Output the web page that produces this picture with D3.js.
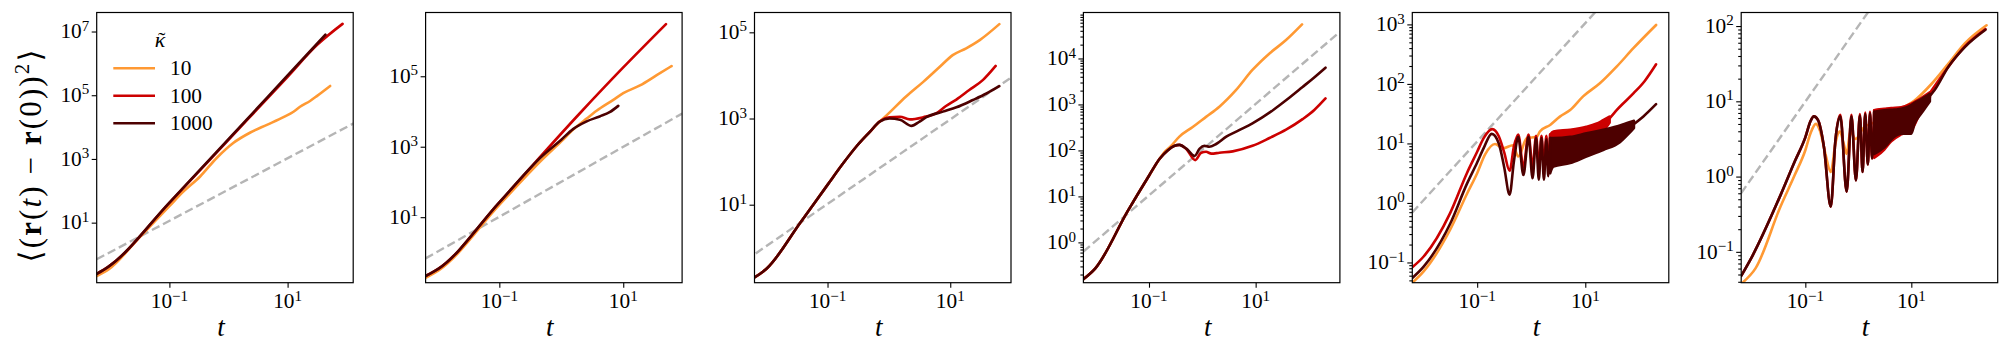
<!DOCTYPE html>
<html lang="en">
<head>
<meta charset="UTF-8">
<title>Mean squared displacement panels</title>
<script src="https://d3js.org/d3.v7.min.js"></script>
<style>
    body { margin: 0; background: #fff; }
    svg { display: block; font-family: "Liberation Serif", "DejaVu Serif", serif; }
    .frame { fill: none; stroke: #000; stroke-width: 1.2; }
    .tick line { stroke: #000; stroke-width: 1.1; }
    .curve { fill: none; stroke-width: 2.6; stroke-linejoin: round; stroke-linecap: round; }
    .guide { fill: none; stroke: #b5b5b5; stroke-width: 2.4; stroke-dasharray: 8.5 4; }
</style>
</head>
<body>
<svg id="fig" width="2010" height="364"></svg>
<script>
// every point is [log10 t, log10 <(r(t)-r(0))^2>]
// bands are [log10 t, log10 lower, log10 upper] where the curve oscillates too fast to resolve

const kappas = [10, 100, 1000];
const colors = ["#ff9933", "#cc0000", "#4d0000"];

// axis limits (log10)
const xLims = [[-2.23, 2.11], [-2.19, 1.95], [-2.19, 1.99], [-2.23, 2.58], [-2.2, 2.545], [-2.21, 2.63]];
const yLims = [[-0.885, 7.597], [-0.86, 6.81], [-0.81, 5.46], [-0.877, 5.0], [-1.34, 3.2], [-1.41, 2.18]];

// tick exponents
const xTickExp = [-1, 1];
const yTickExp = [[1, 3, 5, 7], [1, 3, 5], [1, 3, 5], [0, 1, 2, 3, 4], [-1, 0, 1, 2, 3], [-1, 0, 1, 2]];
const yMinor = [false, false, false, true, true, true];

// panel 1
const p1_guide = [[-2.23, -0.15], [2.12, 4.12]];
const p1_k10 = [[-2.23, -0.68], [-2.03, -0.47], [-1.5, 0.55], [-1.0, 1.52], [-0.76, 1.98], [-0.48, 2.45], [-0.2, 3.03], [0.08, 3.5], [0.37, 3.83], [0.65, 4.07], [0.93, 4.31], [1.1, 4.48], [1.21, 4.64], [1.38, 4.82], [1.5, 4.98], [1.72, 5.29]];
const p1_k100 = [[-2.23, -0.61], [-2.03, -0.38], [-1.0, 1.62], [0.0, 3.6], [1.0, 5.58], [1.5, 6.58], [1.93, 7.24]];
const p1_k1000 = [[-2.23, -0.61], [-2.03, -0.38], [-1.0, 1.63], [0.0, 3.62], [1.0, 5.62], [1.4, 6.42], [1.64, 6.9]];

// panel 2
const p2_guide = [[-2.19, -0.17], [1.95, 3.94]];
const p2_k10 = [[-2.19, -0.72], [-1.98, -0.51], [-1.0, 1.35], [-0.3, 2.65], [0.0, 3.15], [0.2, 3.5], [0.41, 3.8], [0.57, 4.02], [0.84, 4.33], [1.0, 4.52], [1.27, 4.74], [1.54, 5.03], [1.78, 5.29]];
const p2_k100 = [[-2.19, -0.67], [-1.98, -0.46], [-1.0, 1.42], [0.3, 3.95], [1.0, 5.25], [1.69, 6.48]];
const p2_k1000 = [[-2.19, -0.67], [-1.98, -0.46], [-1.0, 1.42], [-0.3, 2.75], [0.0, 3.2], [0.19, 3.5], [0.41, 3.72], [0.62, 3.86], [0.78, 3.98], [0.92, 4.16]];

// panel 3
const p3_guide = [[-2.17, -0.13], [1.99, 3.95]];
const p3_k10 = [[-2.19, -0.69], [-1.99, -0.48], [-1.45, 0.57], [-1.0, 1.46], [-0.745, 1.96], [-0.53, 2.35], [-0.31, 2.69], [-0.15, 2.93], [-0.07, 3.03], [0.28, 3.51], [0.56, 3.85], [0.83, 4.2], [1.04, 4.47], [1.26, 4.63], [1.48, 4.82], [1.8, 5.19]];
const p3_k100 = [[-2.19, -0.69], [-1.99, -0.48], [-1.45, 0.57], [-1.0, 1.46], [-0.745, 1.96], [-0.53, 2.35], [-0.31, 2.69], [-0.15, 2.93], [0.01, 3.03], [0.18, 3.04], [0.34, 2.98], [0.56, 3.03], [0.77, 3.12], [0.93, 3.29], [1.1, 3.44], [1.31, 3.66], [1.53, 3.89], [1.74, 4.22]];
const p3_k1000 = [[-2.19, -0.69], [-1.99, -0.48], [-1.45, 0.57], [-1.0, 1.46], [-0.745, 1.96], [-0.53, 2.35], [-0.31, 2.69], [-0.15, 2.93], [0.01, 3.0], [0.18, 2.97], [0.37, 2.83], [0.5, 2.93], [0.61, 3.03], [0.88, 3.16], [1.1, 3.26], [1.37, 3.43], [1.59, 3.58], [1.8, 3.75]];

// panel 4
const p4_guide = [[-2.23, -0.2], [2.58, 4.58]];
const p4_k10 = [[-2.23, -0.8], [-2.01, -0.57], [-1.4, 0.68], [-1.0, 1.45], [-0.8, 1.82], [-0.72, 1.95], [-0.6, 2.08], [-0.43, 2.3], [-0.18, 2.51], [0.07, 2.73], [0.32, 2.95], [0.63, 3.31], [0.94, 3.75], [1.26, 4.11], [1.57, 4.4], [1.87, 4.74]];
const p4_k100 = [[-2.23, -0.8], [-2.01, -0.57], [-1.4, 0.68], [-1.0, 1.45], [-0.8, 1.82], [-0.65, 2.0], [-0.52, 2.1], [-0.43, 2.12], [-0.3, 2.03], [-0.134, 1.79], [-0.02, 1.95], [0.07, 1.97], [0.17, 1.93], [0.32, 1.95], [0.57, 1.98], [0.94, 2.1], [1.26, 2.27], [1.57, 2.45], [1.88, 2.68], [2.1, 2.88], [2.31, 3.13]];
const p4_k1000 = [[-2.23, -0.8], [-2.01, -0.57], [-1.4, 0.68], [-1.0, 1.45], [-0.8, 1.82], [-0.65, 2.0], [-0.52, 2.1], [-0.43, 2.12], [-0.3, 2.04], [-0.146, 1.88], [-0.05, 2.04], [0.04, 2.1], [0.13, 2.08], [0.26, 2.14], [0.45, 2.3], [0.69, 2.44], [0.94, 2.59], [1.33, 2.88], [1.57, 3.09], [1.88, 3.38], [2.07, 3.56], [2.31, 3.8]];

// panel 5
const p5_guide = [[-2.2, -0.16], [1.18, 3.2]];
const p5_k10 = [[-2.2, -1.34], [-1.99, -1.15], [-1.5, -0.45], [-1.19, 0.15], [-1.0, 0.5], [-0.85, 0.82], [-0.67, 0.99], [-0.52, 0.92], [-0.34, 0.97], [-0.24, 0.78], [-0.08, 1.09], [0.1, 1.11], [0.16, 1.2], [0.35, 1.31], [0.53, 1.45], [0.72, 1.56], [0.96, 1.79], [1.27, 2.01], [1.58, 2.29], [1.89, 2.6], [2.31, 2.99]];
const p5_k100 = [[-2.2, -1.08], [-1.99, -0.9], [-1.5, -0.17], [-1.19, 0.5], [-1.0, 0.86], [-0.88, 1.09], [-0.72, 1.24], [-0.6, 1.12], [-0.5, 0.85], [-0.4, 0.54], [-0.32, 0.95], [-0.24, 1.15], [-0.145, 0.6], [-0.05, 1.15], [0.025, 0.6], [0.09, 1.13], [0.14, 0.6], [0.19, 1.13], [0.235, 0.6], [0.28, 1.13], [0.315, 0.6], [0.35, 1.15]];
const p5_k100_band = [[0.35, 0.6, 1.15], [0.41, 0.65, 1.2], [0.72, 0.75, 1.23], [1.02, 0.9, 1.28], [1.2, 1.05, 1.33], [1.33, 1.2, 1.39], [1.45, 1.35, 1.45]];
const p5_k100_tail = [[1.45, 1.42], [1.58, 1.56], [1.89, 1.84], [2.1, 2.05], [2.31, 2.33]];
const p5_k1000 = [[-2.2, -1.26], [-1.99, -1.07], [-1.5, -0.35], [-1.19, 0.32], [-1.0, 0.68], [-0.88, 0.92], [-0.73, 1.16], [-0.6, 1.0], [-0.5, 0.6], [-0.4, 0.14], [-0.32, 0.7], [-0.24, 1.11], [-0.145, 0.47], [-0.05, 1.11], [0.025, 0.415], [0.09, 1.09], [0.14, 0.39], [0.19, 1.09], [0.235, 0.39], [0.28, 1.07], [0.315, 0.45], [0.35, 1.09]];
const p5_k1000_band = [[0.35, 0.5, 1.09], [0.41, 0.61, 1.09], [0.72, 0.67, 1.11], [1.02, 0.78, 1.17], [1.33, 0.89, 1.23], [1.64, 1.02, 1.3], [1.8, 1.16, 1.35], [1.9, 1.26, 1.38]];
const p5_k1000_tail = [[1.86, 1.3], [2.07, 1.45], [2.31, 1.66]];

// panel 6
const p6_guide = [[-2.21, -0.22], [0.18, 2.18]];
const p6_k10 = [[-2.17, -1.4], [-1.94, -1.22], [-1.47, -0.4], [-1.2, 0.02], [-1.0, 0.35], [-0.9, 0.58], [-0.8, 0.7], [-0.72, 0.6], [-0.62, 0.3], [-0.52, 0.06], [-0.43, 0.45], [-0.35, 0.6], [-0.28, 0.45], [-0.22, 0.3], [-0.15, 0.6], [-0.05, 0.5], [0.1, 0.65], [0.3, 0.72], [0.5, 0.8], [0.8, 0.9], [1.06, 1.01], [1.38, 1.23], [1.7, 1.5], [2.01, 1.77], [2.42, 2.01]];
const p6_k100 = [[-2.21, -1.32], [-2.01, -1.07], [-1.47, -0.25], [-1.2, 0.2], [-1.0, 0.52], [-0.9, 0.74], [-0.84, 0.8], [-0.76, 0.75], [-0.65, 0.4], [-0.52, -0.4], [-0.43, 0.5], [-0.34, 0.82], [-0.22, -0.2], [-0.13, 0.82], [-0.045, -0.05], [0.03, 0.83], [0.08, 0.06], [0.13, 0.85], [0.18, 0.16], [0.22, 0.86], [0.26, 0.24], [0.3, 0.88]];
const p6_k100_band = [[0.3, 0.25, 0.88], [0.36, 0.28, 0.89], [0.49, 0.36, 0.9], [0.62, 0.47, 0.91], [0.81, 0.56, 0.92], [1.0, 0.62, 0.97], [1.2, 0.9, 1.05], [1.35, 1.05, 1.12]];
const p6_k100_tail = [[1.33, 1.09], [1.7, 1.46], [2.01, 1.73], [2.4, 1.96]];
const p6_k1000 = [[-2.21, -1.32], [-2.01, -1.07], [-1.47, -0.25], [-1.2, 0.2], [-1.0, 0.52], [-0.9, 0.74], [-0.84, 0.8], [-0.76, 0.75], [-0.65, 0.4], [-0.52, -0.4], [-0.43, 0.5], [-0.34, 0.8], [-0.22, -0.2], [-0.13, 0.8], [-0.045, -0.05], [0.03, 0.81], [0.08, 0.06], [0.13, 0.83], [0.18, 0.16], [0.22, 0.84], [0.26, 0.24], [0.3, 0.86]];
const p6_k1000_band = [[0.3, 0.3, 0.86], [0.49, 0.39, 0.88], [0.68, 0.53, 0.89], [0.81, 0.57, 0.9], [1.0, 0.57, 0.95], [1.06, 0.7, 0.98], [1.19, 0.84, 1.03], [1.35, 1.0, 1.1]];
const p6_k1000_tail = [[1.3, 1.03], [1.44, 1.15], [1.7, 1.46], [2.01, 1.72], [2.4, 1.95]];

// table the drawing loop walks over
const panels = [
    { guide: p1_guide, lines: [[p1_k10], [p1_k100], [p1_k1000]], bands: [[], [], []] },
    { guide: p2_guide, lines: [[p2_k10], [p2_k100], [p2_k1000]], bands: [[], [], []] },
    { guide: p3_guide, lines: [[p3_k10], [p3_k100], [p3_k1000]], bands: [[], [], []] },
    { guide: p4_guide, lines: [[p4_k10], [p4_k100], [p4_k1000]], bands: [[], [], []] },
    { guide: p5_guide, lines: [[p5_k10], [p5_k100, p5_k100_tail], [p5_k1000, p5_k1000_tail]], bands: [[], [p5_k100_band], [p5_k1000_band]] },
    { guide: p6_guide, lines: [[p6_k10], [p6_k100, p6_k100_tail], [p6_k1000, p6_k1000_tail]], bands: [[], [p6_k100_band], [p6_k1000_band]] }
];

// layout
const axLeft0 = 96.7, axStep = 328.9, axW = 256.5, axTop = 12.5, axH = 270.2;
const svg = d3.select("#fig");

// size the serif text so that "10" comes out ~21px wide, whatever face the browser picked
const probe = svg.append("text").attr("font-size", 100).text("10");
const fk = 100 / probe.node().getComputedTextLength();
probe.remove();
const tickFs = 21.3 * fk, supFs = 15 * fk, labFs = 27 * fk;

function powLabel(text, e) {
    text.append("tspan").text("10");
    text.append("tspan").attr("dy", -0.36 * tickFs).attr("font-size", supFs)
        .text(e < 0 ? "\u2212" + (-e) : String(e));
}

panels.forEach((p, i) => {
    const g = svg.append("g").attr("transform", `translate(${axLeft0 + i * axStep},${axTop})`);
    const x = d3.scaleLog().domain(xLims[i].map(v => 10 ** v)).range([0, axW]);
    const y = d3.scaleLog().domain(yLims[i].map(v => 10 ** v)).range([axH, 0]);

    g.append("clipPath").attr("id", "clip" + i)
        .append("rect").attr("width", axW).attr("height", axH);
    const plot = g.append("g").attr("clip-path", `url(#clip${i})`);

    const line = d3.line()
        .x(d => x(10 ** d[0]))
        .y(d => y(10 ** d[1]))
        .curve(d3.curveMonotoneX);
    const area = d3.area()
        .x(d => x(10 ** d[0]))
        .y0(d => y(10 ** d[1]))
        .y1(d => y(10 ** d[2]))
        .curve(d3.curveMonotoneX);

    plot.append("path").attr("class", "guide").attr("d", d3.line()
        .x(d => x(10 ** d[0])).y(d => y(10 ** d[1]))(p.guide));

    kappas.forEach((k, s) => {
        p.bands[s].forEach(b => {
            plot.append("path").attr("d", area(b))
                .attr("fill", colors[s]).attr("stroke", colors[s]).attr("stroke-width", 2.6)
                .attr("stroke-linejoin", "round");
        });
        p.lines[s].forEach(l => {
            plot.append("path").attr("class", "curve").attr("d", line(l)).attr("stroke", colors[s]);
        });
    });

    // ticks
    const yMaj = yTickExp[i].map(e => 10 ** e);
    g.append("g").call(d3.axisLeft(y).tickValues(yMaj).tickSize(5).tickFormat(""))
        .call(a => a.select(".domain").remove());
    if (yMinor[i]) {
        const minors = [];
        for (let e = Math.floor(yLims[i][0]); e <= Math.ceil(yLims[i][1]); e++) {
            for (let m = 2; m <= 9; m++) {
                const v = m * 10 ** e;
                if (Math.log10(v) >= yLims[i][0] && Math.log10(v) <= yLims[i][1]) minors.push(v);
            }
        }
        g.append("g").call(d3.axisLeft(y).tickValues(minors).tickSize(3).tickFormat(""))
            .call(a => a.select(".domain").remove())
            .selectAll("line").attr("stroke-width", 0.8);
    }
    g.append("g").attr("transform", `translate(0,${axH})`)
        .call(d3.axisBottom(x).tickValues(xTickExp.map(e => 10 ** e)).tickSize(5).tickFormat(""))
        .call(a => a.select(".domain").remove());

    yTickExp[i].forEach(e => {
        const t = g.append("text").attr("font-size", tickFs)
            .attr("x", -7.5).attr("y", y(10 ** e) + 6.8).attr("text-anchor", "end");
        powLabel(t, e);
    });
    xTickExp.forEach(e => {
        const t = g.append("text").attr("font-size", tickFs)
            .attr("x", x(10 ** e)).attr("y", axH + 25.5).attr("text-anchor", "middle");
        powLabel(t, e);
    });

    g.append("rect").attr("class", "frame").attr("width", axW).attr("height", axH);

    g.append("text").attr("x", axW / 2 - 4).attr("y", axH + 53)
        .attr("text-anchor", "middle").attr("font-size", labFs).attr("font-style", "italic")
        .text("t");

    if (i === 0) {
        // y label, stretched to the width matplotlib's math spacing gives it
        const yl = svg.append("text")
            .attr("transform", "translate(41,156) rotate(-90)")
            .attr("text-anchor", "middle").attr("font-size", 31 * fk)
            .attr("textLength", 213).attr("lengthAdjust", "spacing");
        yl.append("tspan").text("\u27E8(");
        yl.append("tspan").attr("font-weight", "bold").text("r");
        yl.append("tspan").text("(");
        yl.append("tspan").attr("font-style", "italic").text("t");
        yl.append("tspan").text(") \u2212 ");
        yl.append("tspan").attr("font-weight", "bold").text("r");
        yl.append("tspan").text("(0))");
        yl.append("tspan").attr("dy", -12).attr("font-size", 21 * fk).text("2");
        yl.append("tspan").attr("dy", 12).text("\u27E9");

        // legend
        const lg = g.append("g");
        lg.append("text").attr("x", 63.3).attr("y", 34.5).attr("text-anchor", "middle")
            .attr("font-size", 22 * fk).attr("font-style", "italic").text("\u03BA");
        lg.append("text").attr("x", 65).attr("y", 34.5).attr("text-anchor", "middle")
            .attr("font-size", 22 * fk).text("\u02DC");
        kappas.forEach((k, s) => {
            const ry = 55.8 + s * 27.5;
            lg.append("line").attr("x1", 16.6).attr("x2", 58.3).attr("y1", ry).attr("y2", ry)
                .attr("stroke", colors[s]).attr("stroke-width", 2.6);
            lg.append("text").attr("x", 73.3).attr("y", ry + 6.9).attr("font-size", tickFs).text(k);
        });
    }
});
</script>
</body>
</html>
